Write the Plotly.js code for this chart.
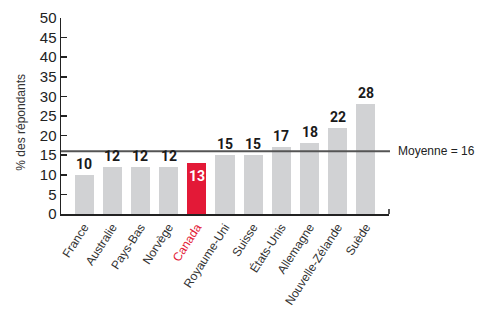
<!DOCTYPE html>
<html><head><meta charset="utf-8">
<script src="https://cdn.plot.ly/plotly-3.0.1.min.js"></script>
<style>body{margin:0;background:#fff}#chart{width:487px;height:322px}</style>
</head><body><div id="chart"></div>
<script>
const countries = ["France","Australie","Pays-Bas","Norvège","Canada","Royaume-Uni","Suisse","États-Unis","Allemagne","Nouvelle-Zélande","Suède"];
const values = [10,12,12,12,13,15,15,17,18,22,28];
const average = 16;
const highlight = "Canada";
const yTicks = [0,5,10,15,20,25,30,35,40,45,50];

const RED = "#e31937", GRAY = "#d1d2d4";
const idx = countries.map((c,i)=>i);
const colors = countries.map(c => c===highlight ? RED : GRAY);
const tickText = countries.map(c => c===highlight ? `<span style="color:${RED}">${c}</span>` : c);

const trace = {
  type: "bar", x: idx, y: values, width: 0.68,
  marker: {color: colors, line: {width: 0}},
  hoverinfo: "skip"
};

const annotations = values.map((v,i) => {
  const inside = countries[i]===highlight;
  return {
    x: i, y: v, xref: "x", yref: "y", text: "<b>" + v + "</b>", showarrow: false,
    yanchor: inside ? "top" : "bottom", yshift: inside ? -3 : 1,
    font: {family: "Roboto", size: 14, color: inside ? "#fff" : "#1a1a1a"}
  };
});
annotations.push({
  xref: "paper", yref: "y", x: 1, y: average, xanchor: "left", xshift: 7,
  text: "Moyenne = " + average, showarrow: false,
  font: {family: "Liberation Sans", size: 12, color: "#222"}
});
annotations.push({
  xref: "paper", yref: "paper", x: -0.15, y: 0.47, textangle: -90,
  text: "% des répondants", showarrow: false,
  font: {family: "Liberation Sans", size: 12, color: "#333"}
});

const layout = {
  width: 487, height: 322,
  margin: {l: 61, r: 98, t: 18, b: 108},
  paper_bgcolor: "#fff", plot_bgcolor: "#fff",
  showlegend: false,
  bargap: 0,
  xaxis: {
    range: [-0.82, 10.82], tickvals: idx, ticktext: tickText, tickangle: -57,
    showgrid: false, zeroline: false, showline: true, linecolor: "#222", linewidth: 1.5,
    ticks: "", tickfont: {family: "Liberation Sans", size: 12, color: "#333"}, fixedrange: true
  },
  yaxis: {
    range: [0, 50], tickvals: yTicks, showgrid: false, zeroline: false,
    showline: true, linecolor: "#222", linewidth: 1.5,
    ticks: "inside", ticklen: 6, tickwidth: 1.5, tickcolor: "#222",
    tickfont: {family: "Liberation Sans", size: 15, color: "#222"}, fixedrange: true
  },
  shapes: [
    {type: "line", xref: "paper", yref: "y", x0: 0, x1: 1.003, y0: average, y1: average,
     line: {color: "#555", width: 2}},
    {type: "line", xref: "paper", yref: "paper", x0: 1, x1: 1, y0: 0, y1: 0.025,
     line: {color: "#222", width: 1.5}}
  ],
  annotations: annotations
};

Plotly.newPlot("chart", [trace], layout, {displayModeBar: false, staticPlot: true});
</script></body></html>
